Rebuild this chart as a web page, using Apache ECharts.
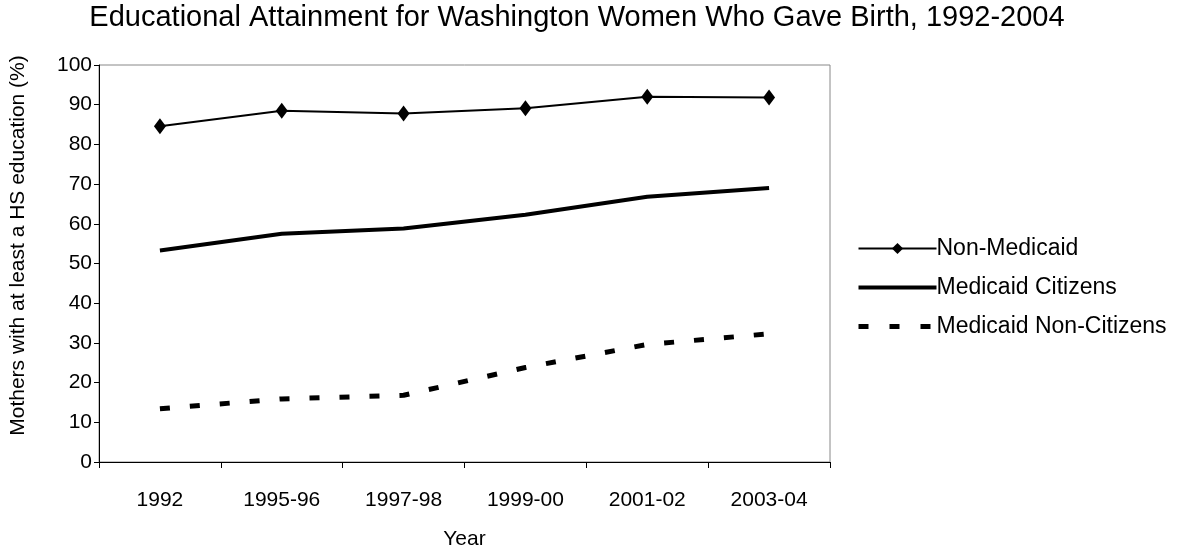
<!DOCTYPE html>
<html>
<head>
<meta charset="utf-8">
<script src="https://cdn.jsdelivr.net/npm/echarts@6/dist/echarts.min.js"></script>
<style>
html,body{margin:0;padding:0;background:#fff;}
#chart{width:1177px;height:555px;}
</style>
</head>
<body>
<div id="chart"></div>
<script>
var years = ['1992', '1995-96', '1997-98', '1999-00', '2001-02', '2003-04'];
var nonMedicaid = [84.6, 88.5, 87.8, 89.1, 92.0, 91.8];
var medicaidCitizens = [53.3, 57.5, 58.8, 62.3, 66.8, 69.0];
var medicaidNonCitizens = [13.4, 15.9, 16.8, 23.8, 29.6, 32.3];

var font = 'Liberation Sans, Arial, sans-serif';
var myChart = echarts.init(document.getElementById('chart'));
var option = {
    animation: false,
    backgroundColor: '#fff',
    title: {
        text: 'Educational Attainment for Washington Women Who Gave Birth, 1992-2004',
        left: 572, top: -2, textAlign: 'center',
        textStyle: {fontFamily: font, fontSize: 29, fontWeight: 'normal', color: '#000'}
    },
    legend: {
        orient: 'vertical',
        left: 851, top: 232,
        itemWidth: 78, itemHeight: 14, itemGap: 16,
        textStyle: {fontFamily: font, fontSize: 23, color: '#000', padding: [0, 0, 0, -5]},
        data: [
            {name: 'Non-Medicaid', lineStyle: {width: 2}},
            {name: 'Medicaid Citizens', lineStyle: {width: 4}, itemStyle: {opacity: 0}},
            {name: 'Medicaid Non-Citizens', lineStyle: {width: 5, type: [10, 21]}, itemStyle: {opacity: 0}}
        ]
    },
    grid: {left: 99, right: 347, top: 65, bottom: 91, show: true, borderColor: '#888', borderWidth: 1},
    xAxis: {
        type: 'category',
        data: years,
        name: 'Year', nameLocation: 'middle', nameGap: 67,
        nameTextStyle: {fontFamily: font, fontSize: 21, color: '#000'},
        axisLine: {lineStyle: {color: '#000', width: 1}},
        axisTick: {show: true, length: 6, lineStyle: {color: '#000'}},
        axisLabel: {fontFamily: font, fontSize: 21, color: '#000', margin: 28}
    },
    yAxis: {
        type: 'value', min: 0, max: 100, interval: 10,
        name: 'Mothers with at least a HS education (%)', nameLocation: 'middle', nameGap: 70,
        nameTextStyle: {fontFamily: font, fontSize: 21, color: '#000', padding: [0, 0, 0, 36]},
        axisLine: {show: true, lineStyle: {color: '#000', width: 1}},
        axisTick: {show: true, length: 5, lineStyle: {color: '#000'}},
        splitLine: {show: false},
        axisLabel: {fontFamily: font, fontSize: 21, color: '#000', margin: 7}
    },
    series: [
        {
            name: 'Non-Medicaid', type: 'line', data: nonMedicaid,
            symbol: 'diamond', symbolSize: [12, 16],
            lineStyle: {color: '#000', width: 2},
            itemStyle: {color: '#000'}
        },
        {
            name: 'Medicaid Citizens', type: 'line', data: medicaidCitizens,
            symbol: 'none',
            lineStyle: {color: '#000', width: 4},
            itemStyle: {color: '#000'}
        },
        {
            name: 'Medicaid Non-Citizens', type: 'line', data: medicaidNonCitizens,
            symbol: 'none',
            lineStyle: {color: '#000', width: 5, type: [10, 20]},
            itemStyle: {color: '#000'}
        }
    ]
};
myChart.setOption(option);
</script>
</body>
</html>
